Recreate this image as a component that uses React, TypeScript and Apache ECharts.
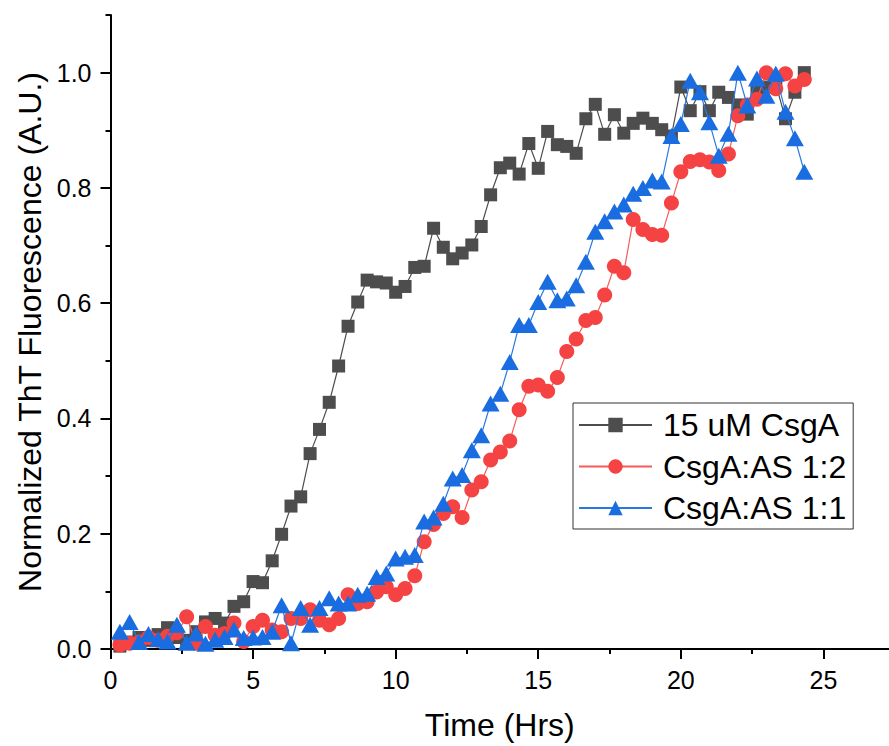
import React, { useEffect, useRef } from "react";
import * as echarts from "echarts";

const times = [
  0.33, 0.67, 1.0, 1.33, 1.67, 2.0, 2.33, 2.67, 3.0, 3.33, 3.67, 4.0, 4.33, 4.67, 5.0,
  5.33, 5.67, 6.0, 6.33, 6.67, 7.0, 7.33, 7.67, 8.0, 8.33, 8.67, 9.0, 9.33, 9.67, 10.0,
  10.33, 10.67, 11.0, 11.33, 11.67, 12.0, 12.33, 12.67, 13.0, 13.33, 13.67, 14.0, 14.33,
  14.67, 15.0, 15.33, 15.67, 16.0, 16.33, 16.67, 17.0, 17.33, 17.67, 18.0, 18.33, 18.67,
  19.0, 19.33, 19.67, 20.0, 20.33, 20.67, 21.0, 21.33, 21.67, 22.0, 22.33, 22.67, 23.0,
  23.33, 23.67, 24.0, 24.33,
];

const csgaOnly = [
  0.005, 0.012, 0.02, 0.015, 0.025, 0.037, 0.02, 0.015, 0.03, 0.047, 0.053, 0.045, 0.074,
  0.082, 0.117, 0.115, 0.153, 0.199, 0.248, 0.264, 0.339, 0.381, 0.428, 0.491, 0.56, 0.602,
  0.64, 0.637, 0.635, 0.619, 0.629, 0.662, 0.664, 0.73, 0.697, 0.677, 0.687, 0.701, 0.733,
  0.788, 0.835, 0.843, 0.824, 0.877, 0.834, 0.898, 0.875, 0.872, 0.86, 0.92, 0.945, 0.893,
  0.927, 0.895, 0.912, 0.921, 0.912, 0.901, 0.89, 0.975, 0.934, 0.967, 0.934, 0.966, 0.957,
  0.944, 0.928, 0.972, 0.975, 0.98, 0.92, 0.966, 1.0,
];

const csgaAS12 = [
  0.007, 0.01, 0.012, 0.02, 0.015, 0.022, 0.028, 0.056, 0.01, 0.039, 0.024, 0.027, 0.045,
  0.013, 0.039, 0.05, 0.033, 0.03, 0.053, 0.053, 0.068, 0.05, 0.042, 0.053, 0.094, 0.079,
  0.082, 0.099, 0.108, 0.094, 0.105, 0.127, 0.186, 0.216, 0.235, 0.247, 0.228, 0.276, 0.29,
  0.328, 0.342, 0.361, 0.415, 0.456, 0.458, 0.447, 0.471, 0.516, 0.538, 0.57, 0.575, 0.614,
  0.664, 0.653, 0.745, 0.728, 0.719, 0.718, 0.774, 0.828, 0.846, 0.849, 0.845, 0.83, 0.859,
  0.925, 0.944, 0.954, 1.0, 0.972, 0.998, 0.977, 0.988,
];

const csgaAS11 = [
  0.03, 0.047, 0.012, 0.026, 0.017, 0.013, 0.042, 0.011, 0.027, 0.009, 0.016, 0.021, 0.034,
  0.019, 0.02, 0.021, 0.03, 0.076, 0.01, 0.071, 0.042, 0.071, 0.088, 0.079, 0.079, 0.094,
  0.096, 0.125, 0.131, 0.157, 0.16, 0.163, 0.221, 0.228, 0.252, 0.296, 0.302, 0.345, 0.371,
  0.426, 0.443, 0.498, 0.562, 0.562, 0.602, 0.637, 0.605, 0.608, 0.631, 0.672, 0.724, 0.742,
  0.759, 0.771, 0.79, 0.8, 0.813, 0.811, 0.89, 0.911, 0.986, 0.966, 0.914, 0.856, 0.894, 1.0,
  0.943, 0.99, 0.96, 0.998, 0.932, 0.886, 0.828,
];

const seriesNames = ["15 uM CsgA", "CsgA:AS 1:2", "CsgA:AS 1:1"];
const xMajorTicks = [0, 5, 10, 15, 20, 25];
const xMinorTicks = [0, 2.5, 5, 7.5, 10, 12.5, 15, 17.5, 20, 22.5, 25];
const yMajorTicks = [0, 0.2, 0.4, 0.6, 0.8, 1.0];
const yMinorTicks = [0, 0.1, 0.2, 0.3, 0.4, 0.5, 0.6, 0.7, 0.8, 0.9, 1.0, 1.1];

const FONT = "'Liberation Sans', Arial, sans-serif";
const X_MAX = 27.3;
const Y_MAX = 1.1;

export default function App() {
  const ref = useRef<HTMLDivElement | null>(null);

  useEffect(() => {
    if (!ref.current) return;
    const chart = echarts.init(ref.current, null, { renderer: "svg" });
    const axisLine = { show: true, lineStyle: { color: "#000", width: 2 } };
    const pair = (vals: number[]) => times.map((t, i) => [t, vals[i]]);

    chart.setOption({
      animation: false,
      backgroundColor: "#fff",
      grid: { left: 110.5, right: 0, top: 15, bottom: 97, containLabel: false },
      xAxis: [
        {
          type: "value",
          min: 0,
          max: X_MAX,
          interval: 5,
          position: "bottom",
          axisLine,
          axisTick: { show: true, inside: false, length: 10, customValues: xMajorTicks, lineStyle: { color: "#000", width: 2 } },
          axisLabel: { customValues: xMajorTicks, fontSize: 25, color: "#000", fontFamily: FONT, margin: 18 },
          splitLine: { show: false },
          name: "Time (Hrs)",
          nameLocation: "middle",
          nameGap: 60,
          nameTextStyle: { fontSize: 32, color: "#000", fontFamily: FONT },
        },
        {
          type: "value",
          min: 0,
          max: X_MAX,
          interval: 2.5,
          position: "bottom",
          axisLine: { show: false },
          axisTick: { show: true, inside: false, length: 5, customValues: xMinorTicks, lineStyle: { color: "#000", width: 2 } },
          axisLabel: { show: false },
          splitLine: { show: false },
        },
      ],
      yAxis: [
        {
          type: "value",
          min: 0,
          max: Y_MAX,
          interval: 0.2,
          position: "left",
          axisLine,
          axisTick: { show: true, inside: false, length: 10, customValues: yMajorTicks, lineStyle: { color: "#000", width: 2 } },
          axisLabel: {
            customValues: yMajorTicks,
            fontSize: 25,
            color: "#000",
            fontFamily: FONT,
            margin: 19,
            formatter: (v: number) => v.toFixed(1),
          },
          splitLine: { show: false },
          name: "Normalized ThT Fluorescence (A.U.)",
          nameLocation: "middle",
          nameGap: 61,
          nameTextStyle: { fontSize: 32, color: "#000", fontFamily: FONT },
        },
        {
          type: "value",
          min: 0,
          max: Y_MAX,
          interval: 0.1,
          position: "left",
          axisLine: { show: false },
          axisTick: { show: true, inside: false, length: 5, customValues: yMinorTicks, lineStyle: { color: "#000", width: 2 } },
          axisLabel: { show: false },
          splitLine: { show: false },
        },
      ],
      legend: {
        orient: "vertical",
        left: 573,
        top: 403,
        padding: [6, 7, 5, 5],
        itemGap: 9.5,
        itemWidth: 73,
        itemHeight: 18,
        borderColor: "#333",
        borderWidth: 1,
        data: seriesNames,
        textStyle: { fontSize: 32, lineHeight: 32, color: "#000", fontFamily: FONT, padding: [0, 0, 0, 6] },
      },
      series: [
        {
          name: seriesNames[0],
          type: "line",
          data: pair(csgaOnly),
          symbol: "rect",
          symbolSize: 13,
          itemStyle: { color: "#4d4d4d" },
          lineStyle: { color: "#4d4d4d", width: 1.2 },
          z: 2,
        },
        {
          name: seriesNames[1],
          type: "line",
          data: pair(csgaAS12),
          symbol: "circle",
          symbolSize: 15,
          itemStyle: { color: "#f54242" },
          lineStyle: { color: "#f65a5a", width: 1.2 },
          z: 3,
        },
        {
          name: seriesNames[2],
          type: "line",
          data: pair(csgaAS11),
          symbol: "triangle",
          symbolSize: [18, 16],
          itemStyle: { color: "#1a6de0" },
          lineStyle: { color: "#2a78e4", width: 1.2 },
          z: 4,
        },
      ],
    });

    return () => chart.dispose();
  }, []);

  return (
    <div
      ref={ref}
      style={{ position: "fixed", left: 0, top: 0, width: 889, height: 746, background: "#fff" }}
    />
  );
}
